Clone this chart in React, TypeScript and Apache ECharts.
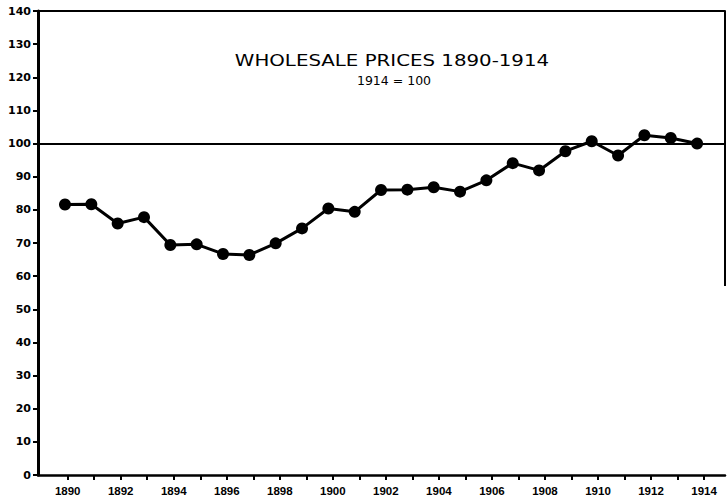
import React, { useEffect, useRef } from "react";
import * as echarts from "echarts";

const TITLE = "WHOLESALE PRICES 1890-1914";
const SUBTITLE = "1914 = 100";

const YEARS = [
  1890, 1891, 1892, 1893, 1894, 1895, 1896, 1897, 1898, 1899, 1900, 1901, 1902,
  1903, 1904, 1905, 1906, 1907, 1908, 1909, 1910, 1911, 1912, 1913, 1914,
];
const PRICE_INDEX = [
  81.6, 81.7, 75.9, 77.8, 69.4, 69.6, 66.7, 66.4, 69.9, 74.4, 80.4, 79.4, 86.0,
  86.1, 86.8, 85.5, 88.9, 94.1, 91.9, 97.7, 100.7, 96.4, 102.5, 101.7, 100.0,
];
const X_LABEL_YEARS = [1890, 1892, 1894, 1896, 1898, 1900, 1902, 1904, 1906, 1908, 1910, 1912, 1914];
const X_TICK_YEARS = YEARS;
const Y_TICK_VALUES = [0, 10, 20, 30, 40, 50, 60, 70, 80, 90, 100, 110, 120, 130, 140];
const BASE_VALUE = 100;
const RIGHT_FRAME_BOTTOM = 57;

// axis ranges
const TICK_AXIS_MIN = 1888.88;
const TICK_AXIS_MAX = 1914.79;
const DATA_AXIS_MIN = 1888.975;
const DATA_AXIS_MAX = 1915.06;
const Y_MIN = 0;
const Y_MAX = 140;

export default function App() {
  const ref = useRef<HTMLDivElement>(null);

  useEffect(() => {
    if (!ref.current) return;
    const chart = echarts.init(ref.current, null, { renderer: "svg" });
    const data = YEARS.map((y, i) => [y, PRICE_INDEX[i]]);

    chart.setOption({
      animation: false,
      backgroundColor: "#ffffff",
      grid: { left: 38, right: 2, top: 11, bottom: 23, containLabel: false },
      xAxis: [
        {
          type: "value",
          min: TICK_AXIS_MIN,
          max: TICK_AXIS_MAX,
          position: "bottom",
          axisLine: { show: true, onZero: false, lineStyle: { color: "#000", width: 2.5 } },
          axisTick: {
            show: true,
            customValues: X_TICK_YEARS,
            length: 5,
            lineStyle: { color: "#000", width: 2 },
          },
          axisLabel: {
            show: true,
            customValues: X_LABEL_YEARS,
            formatter: (v: number) => String(v),
            color: "#000",
            fontFamily: "Liberation Sans",
            fontWeight: "bold",
            fontSize: 11.5,
            margin: 10,
          },
          splitLine: { show: false },
        },
        {
          type: "value",
          min: DATA_AXIS_MIN,
          max: DATA_AXIS_MAX,
          position: "top",
          axisLine: { show: true, onZero: false, lineStyle: { color: "#000", width: 2 } },
          axisTick: { show: false },
          axisLabel: { show: false },
          splitLine: { show: false },
        },
      ],
      yAxis: {
        type: "value",
        min: Y_MIN,
        max: Y_MAX,
        interval: 10,
        axisLine: { show: true, onZero: false, lineStyle: { color: "#000", width: 3 } },
        axisTick: {
          show: true,
          customValues: Y_TICK_VALUES,
          length: 5,
          lineStyle: { color: "#000", width: 2 },
        },
        axisLabel: {
          customValues: Y_TICK_VALUES,
          formatter: (v: number) => String(v),
          color: "#000",
          fontFamily: "DejaVu Sans",
          fontWeight: "bold",
          fontSize: 11,
          margin: 7,
        },
        splitLine: { show: false },
      },
      graphic: [
        {
          type: "text",
          x: 392,
          y: 61,
          scaleX: 1.32,
          style: {
            text: TITLE,
            fontFamily: "DejaVu Sans",
            fontSize: 15,
            fill: "#000",
            align: "center",
            verticalAlign: "middle",
          },
        },
        {
          type: "text",
          x: 394,
          y: 80,
          style: {
            text: SUBTITLE,
            fontFamily: "DejaVu Sans",
            fontSize: 12.5,
            fill: "#000",
            align: "center",
            verticalAlign: "middle",
          },
        },
      ],
      series: [
        {
          type: "line",
          xAxisIndex: 1,
          yAxisIndex: 0,
          data,
          symbol: "circle",
          symbolSize: 12,
          showSymbol: true,
          itemStyle: { color: "#000" },
          lineStyle: { color: "#000", width: 3 },
          silent: true,
          markLine: {
            silent: true,
            symbol: ["none", "none"],
            label: { show: false },
            lineStyle: { color: "#000", width: 2, type: "solid" },
            data: [
              { yAxis: BASE_VALUE },
              [
                { coord: [DATA_AXIS_MAX, Y_MAX] },
                { coord: [DATA_AXIS_MAX, RIGHT_FRAME_BOTTOM] },
              ],
            ],
          },
        },
      ],
    });

    return () => chart.dispose();
  }, []);

  return (
    <div
      ref={ref}
      style={{ position: "fixed", left: 0, top: 0, width: 727, height: 498, background: "#fff" }}
    />
  );
}
